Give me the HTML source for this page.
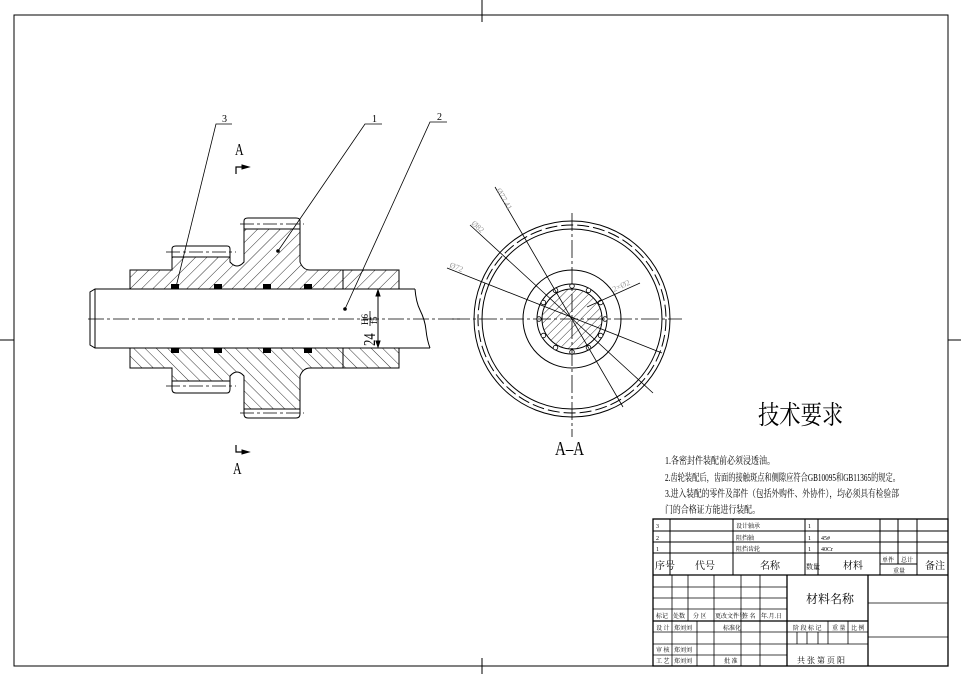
<!DOCTYPE html>
<html><head><meta charset="utf-8"><style>
html,body{margin:0;padding:0;background:#fff}
svg{display:block}
text{font-family:"Liberation Serif","Noto Serif CJK SC",serif;fill:#000}
</style></head><body>
<svg width="961" height="674" viewBox="0 0 961 674" xmlns="http://www.w3.org/2000/svg">
<defs>
<pattern id="h1" width="8" height="8" patternUnits="userSpaceOnUse" patternTransform="rotate(45)"><line x1="0" y1="0" x2="0" y2="8" stroke="#000" stroke-width="0.8"/></pattern>
<pattern id="h2" width="8" height="8" patternUnits="userSpaceOnUse" patternTransform="rotate(-45)"><line x1="0" y1="0" x2="0" y2="8" stroke="#000" stroke-width="0.8"/></pattern>
<pattern id="h3" width="6" height="6" patternUnits="userSpaceOnUse" patternTransform="rotate(45)"><line x1="0" y1="0" x2="0" y2="6" stroke="#000" stroke-width="0.8"/></pattern>
</defs>
<g stroke="#000" fill="none" stroke-width="1">
<rect x="14" y="15" width="934" height="651"/>
<line x1="482" y1="0" x2="482" y2="22"/><line x1="482" y1="658" x2="482" y2="674"/>
<line x1="0" y1="340" x2="14" y2="340"/><line x1="948" y1="340" x2="961" y2="340"/>

<path d="M130,270 H172 V257 H230 V262 Q237,270 244,262 V229 H300 V262 Q303,270 310,270 H343 V289 H130 Z" fill="url(#h1)"/>
<path d="M343,270 H399 V289 H343 Z" fill="url(#h1)"/>
<path d="M130,368 H172 V381 H230 V376 Q237,368 244,376 V409 H300 V376 Q303,368 310,368 H343 V348 H130 Z" fill="url(#h2)"/>
<path d="M343,368 H399 V348 H343 Z" fill="url(#h2)"/>
<path d="M172,257 V249 Q172,246 176,246 H227 Q230,246 230,249 V257"/>
<path d="M244,229 V221 Q244,218 248,218 H296 Q300,218 300,221 V229"/>
<path d="M172,381 V389 Q172,393 176,393 H227 Q230,393 230,389 V381"/>
<path d="M244,409 V414 Q244,418 248,418 H296 Q300,418 300,414 V409"/>
<g stroke-dasharray="14,3,3,3" stroke-width="0.8">
<line x1="166" y1="252" x2="236" y2="252"/><line x1="240" y1="224" x2="304" y2="224"/>
<line x1="166" y1="386" x2="236" y2="386"/><line x1="240" y1="413" x2="304" y2="413"/>
</g>
<path d="M415,289 H95 L90,292 V345 L95,348 H430"/>
<line x1="95" y1="289" x2="95" y2="348"/>
<path d="M415,289 Q416,302 420,310 Q425,320 426,330 Q427,340 430,348"/>
<line x1="88" y1="319" x2="462" y2="319" stroke-dasharray="16,3,3,3" stroke-width="0.8"/>
<g fill="#000" stroke="none">
<rect x="171" y="284" width="8" height="5"/><rect x="214" y="284" width="8" height="5"/><rect x="263" y="284" width="8" height="5"/><rect x="304" y="284" width="8" height="5"/>
<rect x="171" y="348" width="8" height="5"/><rect x="214" y="348" width="8" height="5"/><rect x="263" y="348" width="8" height="5"/><rect x="304" y="348" width="8" height="5"/>
</g>
<line x1="378" y1="290" x2="378" y2="347"/>
<path d="M378,290 l-2,6 h4 z M378,347 l-2,-6 h4 z" fill="#000"/>
<path d="M232,124 H216 L176,287" stroke-width="0.8"/>
<path d="M382,124 H365 L278,251" stroke-width="0.8"/>
<path d="M447,122 H430 L345,309" stroke-width="0.8"/>
<circle cx="278" cy="251" r="1.3" fill="#000"/><circle cx="345" cy="309" r="1.3" fill="#000"/>
<path d="M236,174 V167 H242" stroke-width="1.2"/><path d="M242,165 L249,167 L242,169 Z" fill="#000"/>
<path d="M236,445 V452 H242" stroke-width="1.2"/><path d="M242,450 L249,452 L242,454 Z" fill="#000"/>

<circle cx="572" cy="319" r="98"/>
<circle cx="572" cy="319" r="94" stroke-dasharray="12,4"/>
<circle cx="572" cy="319" r="90"/>
<circle cx="572" cy="319" r="49"/>
<circle cx="572" cy="319" r="35"/>
<circle cx="572" cy="319" r="30" fill="url(#h3)"/>
<g fill="#fff" stroke-width="0.8">
<circle cx="572" cy="286" r="2.3"/><circle cx="588.5" cy="290.4" r="2.3"/><circle cx="600.6" cy="302.5" r="2.3"/><circle cx="605" cy="319" r="2.3"/><circle cx="600.6" cy="335.5" r="2.3"/><circle cx="588.5" cy="347.6" r="2.3"/><circle cx="572" cy="352" r="2.3"/><circle cx="555.5" cy="347.6" r="2.3"/><circle cx="543.4" cy="335.5" r="2.3"/><circle cx="539" cy="319" r="2.3"/><circle cx="543.4" cy="302.5" r="2.3"/><circle cx="555.5" cy="290.4" r="2.3"/>
</g>
<g stroke-dasharray="18,3,3,3" stroke-width="0.8">
<line x1="452" y1="319" x2="682" y2="319"/><line x1="572" y1="213" x2="572" y2="437"/>
</g>
<g stroke-width="0.8">
<line x1="495" y1="187" x2="623" y2="407"/>
<line x1="470" y1="225" x2="653" y2="393"/>
<line x1="447" y1="268" x2="662" y2="353"/>
<line x1="640" y1="283" x2="587" y2="307"/>
</g>
</g>
<g font-size="8" style="font-family:'Liberation Sans',sans-serif">
<text x="496" y="190" style="fill:#999" transform="rotate(60 496 190)">Ø77.41</text>
<text x="471" y="224" style="fill:#999" transform="rotate(42 471 224)">Ø82</text>
<text x="449" y="267" style="fill:#999" transform="rotate(22 449 267)">Ø72</text>
<text x="614" y="292" style="fill:#999" transform="rotate(-25 614 292)">2×Ø2</text>
</g>

<text x="222" y="122" font-size="10">3</text>
<text x="372" y="122" font-size="10">1</text>
<text x="437" y="120" font-size="10">2</text>
<text x="0" y="0" font-size="17" transform="translate(235,155) scale(0.7 1)">A</text>
<text x="0" y="0" font-size="17" transform="translate(233,474) scale(0.7 1)">A</text>
<g transform="translate(375,346) rotate(-90)">
<text x="0" y="0" font-size="17" transform="scale(0.75 1)">24</text>
<text x="21" y="-7" font-size="9">H6</text>
<line x1="20" y1="-5" x2="35" y2="-5" stroke="#000" stroke-width="0.8"/>
<text x="22" y="2" font-size="9">f5</text>
</g>
<text x="0" y="0" font-size="20" transform="translate(555,455) scale(0.75 1)">A–A</text>

<text x="0" y="0" font-size="26" transform="translate(758,424) scale(0.82 1)">技术要求</text>
<g font-size="10">
<text x="665" y="464" textLength="110" lengthAdjust="spacingAndGlyphs">1.各密封件装配前必须浸透油。</text>
<text x="665" y="481" textLength="235" lengthAdjust="spacingAndGlyphs">2.齿轮装配后，齿面的接触斑点和侧隙应符合GB10095和GB11365的规定。</text>
<text x="665" y="497" textLength="234" lengthAdjust="spacingAndGlyphs">3.进入装配的零件及部件（包括外购件、外协件），均必须具有检验部</text>
<text x="665" y="513" textLength="95" lengthAdjust="spacingAndGlyphs">门的合格证方能进行装配。</text>
</g>

<g stroke="#000" fill="none" stroke-width="1">
<rect x="653" y="519" width="295" height="147" stroke-width="1.3"/>
<line x1="653" y1="531" x2="948" y2="531"/><line x1="653" y1="542" x2="948" y2="542"/><line x1="653" y1="553" x2="948" y2="553"/><line x1="653" y1="575" x2="948" y2="575" stroke-width="1.3"/>
<line x1="670" y1="519" x2="670" y2="575"/><line x1="733" y1="519" x2="733" y2="575"/><line x1="805" y1="519" x2="805" y2="575"/><line x1="818" y1="519" x2="818" y2="575"/><line x1="880" y1="519" x2="880" y2="575"/><line x1="898" y1="519" x2="898" y2="564"/><line x1="917" y1="519" x2="917" y2="575"/>
<line x1="880" y1="564" x2="917" y2="564"/>
<g stroke-width="0.8">
<line x1="653" y1="587" x2="787" y2="587"/><line x1="653" y1="598" x2="787" y2="598"/><line x1="653" y1="609" x2="787" y2="609"/>
<line x1="653" y1="632" x2="787" y2="632"/><line x1="653" y1="644" x2="787" y2="644"/><line x1="653" y1="655" x2="787" y2="655"/>
<line x1="672" y1="575" x2="672" y2="621"/><line x1="688" y1="575" x2="688" y2="621"/><line x1="714" y1="575" x2="714" y2="621"/><line x1="741" y1="575" x2="741" y2="666"/><line x1="760" y1="575" x2="760" y2="666"/>
<line x1="672" y1="621" x2="672" y2="666"/><line x1="697" y1="621" x2="697" y2="666"/><line x1="714" y1="621" x2="714" y2="666"/>
<line x1="787" y1="632" x2="868" y2="632"/><line x1="787" y1="644" x2="868" y2="644"/>
<line x1="797" y1="632" x2="797" y2="644"/><line x1="807" y1="632" x2="807" y2="644"/><line x1="818" y1="632" x2="818" y2="644"/><line x1="828" y1="621" x2="828" y2="644"/><line x1="848" y1="621" x2="848" y2="644"/>
<line x1="868" y1="603" x2="948" y2="603"/><line x1="868" y1="637" x2="948" y2="637"/>
</g>
<line x1="653" y1="621" x2="868" y2="621" stroke-width="1.3"/>
<line x1="787" y1="575" x2="787" y2="666" stroke-width="1.3"/><line x1="868" y1="575" x2="868" y2="666" stroke-width="1.3"/>
</g>
<g font-size="6">
<text x="656" y="528">3</text><text x="656" y="540">2</text><text x="656" y="551">1</text>
<text x="736" y="528">设计轴承</text><text x="736" y="540">阻挡轴</text><text x="736" y="551">阻挡齿轮</text>
<text x="808" y="528">1</text><text x="808" y="540">1</text><text x="808" y="551">1</text>
<text x="821" y="540">45#</text><text x="821" y="551">40Cr</text>
<text x="882" y="562">单件</text><text x="901" y="562">总计</text><text x="893" y="573">重量</text>
<text x="656" y="618">标记</text><text x="673" y="618">处数</text><text x="693" y="618">分 区</text><text x="715" y="618">更改文件号</text><text x="742" y="618">签 名</text><text x="761" y="618">年.月.日</text>
<text x="656" y="630">设 计</text><text x="674" y="630">郑刘刘</text><text x="723" y="630">标准化</text>
<text x="656" y="652">审 核</text><text x="674" y="652">郑刘刘</text>
<text x="656" y="663">工 艺</text><text x="674" y="663">郑刘刘</text><text x="724" y="663">批 准</text>
<text x="793" y="630">阶 段 标 记</text><text x="832" y="630">重 量</text><text x="851" y="630">比 例</text>
</g>
<g font-size="10">
<text x="655" y="569">序号</text><text x="695" y="569">代号</text><text x="760" y="569">名称</text><text x="806" y="569" font-size="7">数量</text><text x="843" y="569">材料</text><text x="925" y="569">备注</text>
<text x="797" y="663" font-size="8">共 张 第 页 阳</text>
</g>
<text x="806" y="603" font-size="12">材料名称</text>
</svg>
</body></html>
